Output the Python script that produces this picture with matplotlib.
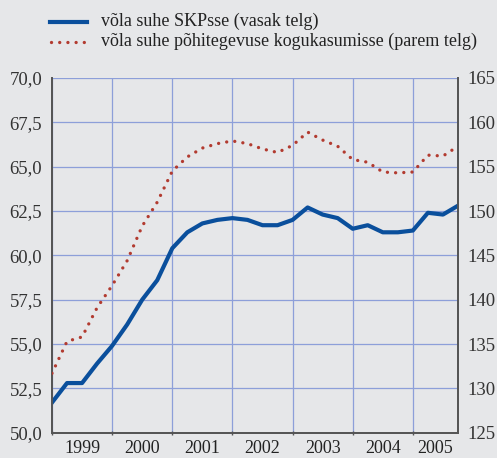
import numpy as np
import matplotlib
matplotlib.use('Agg')
import matplotlib.pyplot as plt
from matplotlib.ticker import FixedLocator, FuncFormatter

# quarterly data, 1999 Q1 .. 2005 Q4
years = ['1999', '2000', '2001', '2002', '2003', '2004', '2005']
debt_gdp = [51.7, 52.8, 52.8, 53.9, 54.9, 56.1, 57.5, 58.6,
            60.4, 61.3, 61.8, 62.0, 62.1, 62.0, 61.7, 61.7,
            62.0, 62.7, 62.3, 62.1, 61.5, 61.7, 61.3, 61.3,
            61.4, 62.4, 62.3, 62.8]
debt_profit = [131.7, 135.3, 135.8, 139.1, 141.6, 144.4, 148.3, 151.0,
               154.5, 156.1, 157.1, 157.6, 157.9, 157.6, 157.0, 156.6,
               157.4, 158.9, 158.0, 157.3, 155.8, 155.5, 154.4, 154.3,
               154.4, 156.3, 156.2, 157.3]
label_gdp = 'võla suhe SKPsse (vasak telg)'
label_profit = 'võla suhe põhitegevuse kogukasumisse (parem telg)'

bg = '#e6e7e9'
grid_c = '#8d9fd9'
blue = '#0a4f9c'
red = '#b23b30'
dots = (0, (0.01, 2.45))
plt.rcParams['font.family'] = ['Liberation Serif', 'DejaVu Serif']

fig = plt.figure(figsize=(4.97, 4.58), dpi=100, facecolor=bg)
ax = fig.add_axes([0.1046, 0.0552, 0.8169, 0.7745], facecolor=bg)
ax2 = ax.twinx()

x = np.arange(len(debt_gdp))
ax.plot(x, debt_gdp, color=blue, lw=3.0, solid_joinstyle='round', zorder=3)
ax2.plot(x, debt_profit, color=red, lw=2.4, linestyle=dots,
         dash_capstyle='round', zorder=3)

ax.set_xlim(0, 27)
ax.set_ylim(50, 70)
ax2.set_ylim(125, 165)
ax.set_yticks(np.arange(50, 70.1, 2.5))
ax2.set_yticks(np.arange(125, 166, 5))
ax.yaxis.set_major_formatter(FuncFormatter(lambda v, p: ('%.1f' % v).replace('.', ',')))

bounds = [0, 4, 8, 12, 16, 20, 24]
centers = [2, 6, 10, 14, 18, 22, 25.5]
ax.xaxis.set_major_locator(FixedLocator(bounds))
ax.xaxis.set_minor_locator(FixedLocator(centers))
ax.xaxis.set_major_formatter(FuncFormatter(lambda v, p: ''))
ax.set_xticklabels(years, minor=True)
ax.tick_params(axis='x', which='major', length=3, width=1, color='#555555', direction='inout')
ax.tick_params(axis='x', which='minor', length=0, labelsize=13, colors='#222222', pad=5)
ax.tick_params(axis='y', length=0, labelsize=13.5, colors='#333333', pad=7)
ax2.tick_params(axis='y', length=0, labelsize=13.5, colors='#333333', pad=7)

ax.grid(True, which='major', color=grid_c, lw=0.9)
ax.set_axisbelow(True)
for a in (ax, ax2):
    a.spines['top'].set_visible(False)
    for s in ('left', 'right', 'bottom'):
        a.spines[s].set_color('#555555')
        a.spines[s].set_linewidth(1.3)

# legend drawn at top
fig.add_artist(plt.Line2D([50 / 497, 87 / 497], [1 - 22 / 458, 1 - 22 / 458],
                          color=blue, lw=3.0))
fig.add_artist(plt.Line2D([51 / 497, 88 / 497], [1 - 42 / 458, 1 - 42 / 458],
                          color=red, lw=2.4, linestyle=dots,
                          dash_capstyle='round'))
fig.text(101 / 497, 1 - 21 / 458, label_gdp, fontsize=13, va='center', color='#222222')
fig.text(101 / 497, 1 - 41 / 458, label_profit, fontsize=13, va='center', color='#222222')

fig.savefig('out.png', dpi=100, facecolor=bg)
